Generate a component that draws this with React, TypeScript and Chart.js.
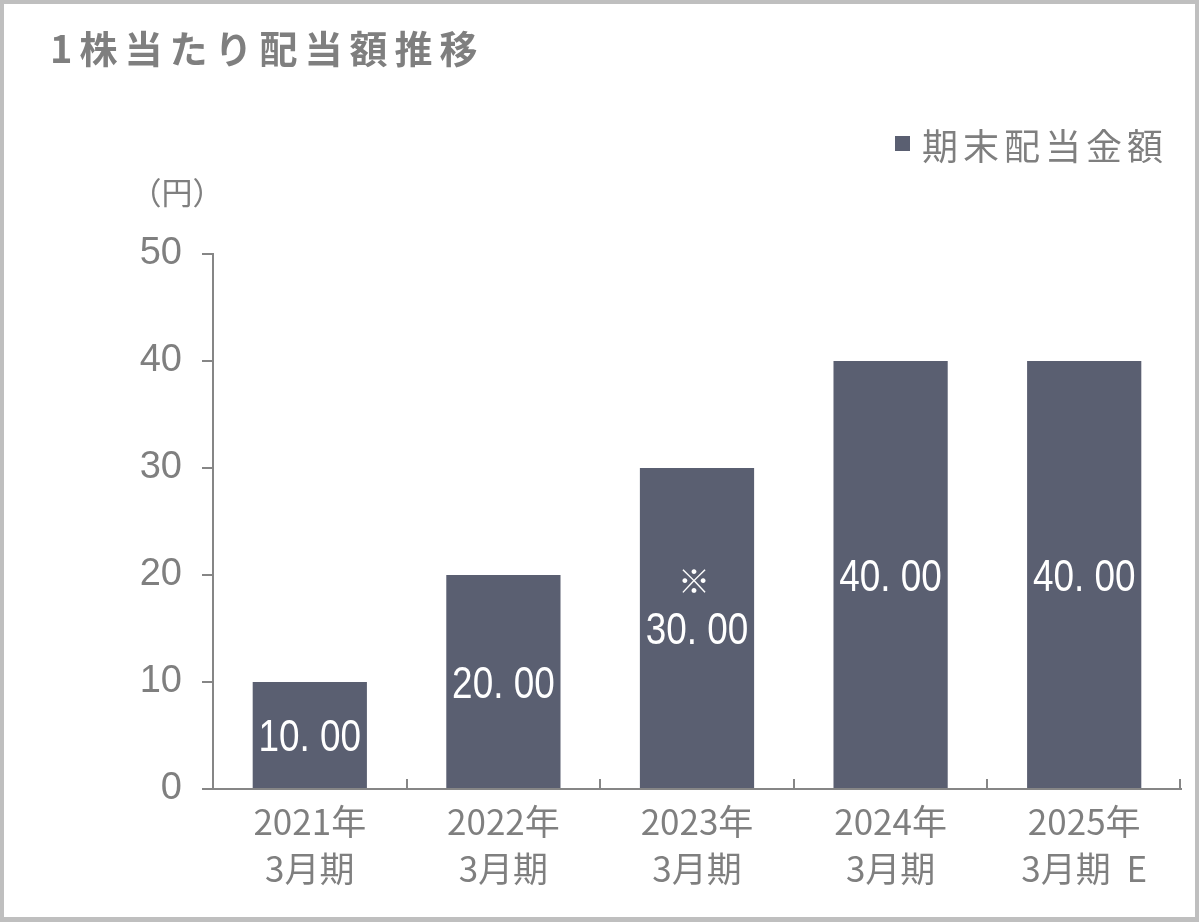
import React, { useEffect, useRef } from 'react';
import { Chart, registerables } from 'chart.js';

Chart.register(...registerables);

const titleText = '1株当たり配当額推移';
const seriesName = '期末配当金額';
const unitLabel = '（円）';
const categories: string[][] = [
  ['2021年', '3月期'],
  ['2022年', '3月期'],
  ['2023年', '3月期'],
  ['2024年', '3月期'],
  ['2025年', '3月期  E'],
];
const dividends: number[] = [10, 20, 30, 40, 40];
const notes: string[] = ['', '', '※', '', ''];
const yMin = 0;
const yMax = 50;
const yStep = 10;

const BAR = '#5a5f71';
const GRAY = '#7f7f7f';
const AXIS = '#868686';
const CJK = '"Noto Sans CJK JP", "Noto Sans", sans-serif';
const LAT = '"Liberation Sans", Arial, sans-serif';

const decor = {
  id: 'decor',
  beforeDraw(chart: any) {
    const { ctx, width, height } = chart;
    ctx.save();
    ctx.fillStyle = '#ffffff';
    ctx.fillRect(0, 0, width, height);
    ctx.fillStyle = '#bfbfbf';
    ctx.fillRect(0, 0, width, 4);
    ctx.fillRect(0, 0, 4, height);
    ctx.fillRect(width - 4, 0, 4, height);
    ctx.fillRect(0, height - 5, width, 5);
    ctx.restore();
  },
  afterDraw(chart: any) {
    const { ctx } = chart;
    const xs = chart.scales.x;
    ctx.save();
    // title
    ctx.fillStyle = GRAY;
    ctx.textAlign = 'left';
    ctx.textBaseline = 'middle';
    ctx.font = `bold 38px ${CJK}`;
    (ctx as any).letterSpacing = '7px';
    ctx.fillText(titleText, 50, 49);
    // legend
    (ctx as any).letterSpacing = '5px';
    ctx.font = `36px ${CJK}`;
    ctx.fillText(seriesName, 922, 146);
    (ctx as any).letterSpacing = '0px';
    ctx.fillStyle = BAR;
    ctx.fillRect(895, 136, 15, 15);
    // unit
    ctx.fillStyle = GRAY;
    ctx.textAlign = 'center';
    ctx.font = `31px ${CJK}`;
    ctx.fillText(unitLabel, 177, 192);
    // x-axis inner ticks at category boundaries
    ctx.strokeStyle = AXIS;
    ctx.lineWidth = 2;
    const n = categories.length;
    const step = (xs.right - xs.left) / n;
    for (let i = 1; i <= n; i++) {
      const x = Math.round(xs.left + i * step) + (i === n ? -1 : 0);
      ctx.beginPath();
      ctx.moveTo(x, xs.top);
      ctx.lineTo(x, xs.top - 10);
      ctx.stroke();
    }
    // data labels
    const meta = chart.getDatasetMeta(0);
    meta.data.forEach((bar: any, i: number) => {
      const cy = (bar.y + bar.base) / 2;
      const txt = dividends[i].toFixed(2).replace('.', '. ');
      ctx.fillStyle = '#ffffff';
      ctx.save();
      ctx.translate(bar.x, cy + 16);
      ctx.scale(0.82, 1);
      ctx.font = `45px ${LAT}`;
      ctx.textAlign = 'center';
      ctx.textBaseline = 'alphabetic';
      ctx.fillText(txt, 0, 0);
      ctx.restore();
      if (notes[i]) {
        ctx.font = `32px ${CJK}`;
        ctx.textAlign = 'center';
        ctx.textBaseline = 'middle';
        ctx.fillText(notes[i], bar.x - 3, cy - 47);
      }
    });
    ctx.restore();
  },
};

export default function App() {
  const ref = useRef<HTMLCanvasElement | null>(null);
  useEffect(() => {
    document.body.style.margin = '0';
    const c = ref.current;
    if (!c) return;
    const chart = new Chart(c, {
      type: 'bar',
      data: {
        labels: categories,
        datasets: [
          {
            label: seriesName,
            data: dividends,
            backgroundColor: BAR,
            borderWidth: 0,
            categoryPercentage: 1,
            barPercentage: 0.59,
          },
        ],
      },
      options: {
        responsive: false,
        animation: false,
        layout: { padding: { top: 254, right: 18, left: 0, bottom: 0 } },
        plugins: {
          legend: { display: false },
          title: { display: false },
          tooltip: { enabled: false },
        },
        scales: {
          x: {
            grid: { display: false, drawTicks: false },
            border: { display: true, color: AXIS, width: 2 },
            ticks: {
              color: GRAY,
              padding: 10,
              maxRotation: 0,
              autoSkip: false,
              font: { family: CJK, size: 35, lineHeight: 1.32 },
            },
            afterFit: (s: any) => {
              s.height = 133;
            },
          },
          y: {
            min: yMin,
            max: yMax,
            ticks: {
              stepSize: yStep,
              color: GRAY,
              padding: 20,
              font: { family: LAT, size: 38 },
            },
            grid: {
              drawOnChartArea: false,
              drawTicks: true,
              tickLength: 11,
              color: AXIS,
              lineWidth: 2,
            },
            border: { display: true, color: AXIS, width: 2 },
            afterFit: (s: any) => {
              s.width = 213;
            },
          },
        },
      },
      plugins: [decor],
    });
    return () => chart.destroy();
  }, []);
  return (
    <div style={{ position: 'absolute', left: 0, top: 0, width: 1199, height: 922 }}>
      <canvas ref={ref} width={1199} height={922} style={{ display: 'block' }} />
    </div>
  );
}
